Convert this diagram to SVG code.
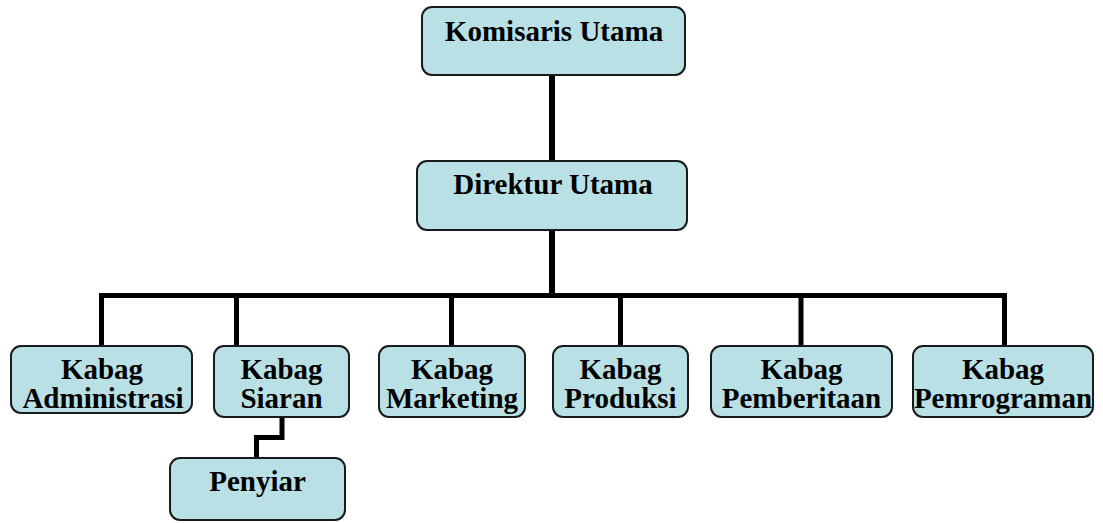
<svg xmlns="http://www.w3.org/2000/svg" width="1103" height="523" viewBox="0 0 1103 523">
<style>
.box{fill:#b9e0e4;stroke:#1a1a1a;stroke-width:2}
.t{font-family:"Liberation Serif","Times New Roman",serif;font-weight:bold;font-size:29px;fill:#000;text-anchor:middle}
.c{fill:none;stroke:#000;stroke-width:5;stroke-linejoin:miter;stroke-linecap:butt}
</style>
<rect width="1103" height="523" fill="#fff"/>
<g id="connectors">
<path class="c" d="M552 75V161" style="stroke-width:6"/>
<path class="c" d="M552 230V296" style="stroke-width:6"/>
<path class="c" d="M101.5 346V295.5H1004.5V346"/>
<path class="c" d="M236.5 295.5V346"/>
<path class="c" d="M451.5 295.5V346"/>
<path class="c" d="M620.5 295.5V346"/>
<path class="c" d="M801 295.5V346"/>
<path class="c" d="M282 417V437.5H256.5V458"/>
</g>
<g id="komisaris">
<rect class="box" x="422" y="7" width="263" height="68" rx="10"/>
<text class="t" x="554" y="41">Komisaris Utama</text>
</g>
<g id="direktur">
<rect class="box" x="417" y="161" width="270" height="69" rx="10"/>
<text class="t" x="553" y="194">Direktur Utama</text>
</g>
<g id="administrasi">
<rect class="box" x="11" y="346" width="181" height="67" rx="10"/>
<text class="t" x="102" y="379">Kabag</text>
<text class="t" x="103" y="408">Administrasi</text>
</g>
<g id="siaran">
<rect class="box" x="214" y="346" width="135" height="71" rx="10"/>
<text class="t" x="281.5" y="379">Kabag</text>
<text class="t" x="281.5" y="408">Siaran</text>
</g>
<g id="marketing">
<rect class="box" x="379" y="346" width="146" height="71" rx="10"/>
<text class="t" x="452" y="379">Kabag</text>
<text class="t" x="452" y="408">Marketing</text>
</g>
<g id="produksi">
<rect class="box" x="553" y="346" width="135" height="71" rx="10"/>
<text class="t" x="620.5" y="379">Kabag</text>
<text class="t" x="620.5" y="408">Produksi</text>
</g>
<g id="pemberitaan">
<rect class="box" x="711" y="346" width="181" height="71" rx="10"/>
<text class="t" x="801.5" y="379">Kabag</text>
<text class="t" x="801.5" y="408">Pemberitaan</text>
</g>
<g id="pemrograman">
<rect class="box" x="913" y="346" width="180" height="71" rx="10"/>
<text class="t" x="1003" y="379">Kabag</text>
<text class="t" x="1003" y="408">Pemrograman</text>
</g>
<g id="penyiar">
<rect class="box" x="170" y="458" width="175" height="62" rx="10"/>
<text class="t" x="257.5" y="491">Penyiar</text>
</g>
</svg>
